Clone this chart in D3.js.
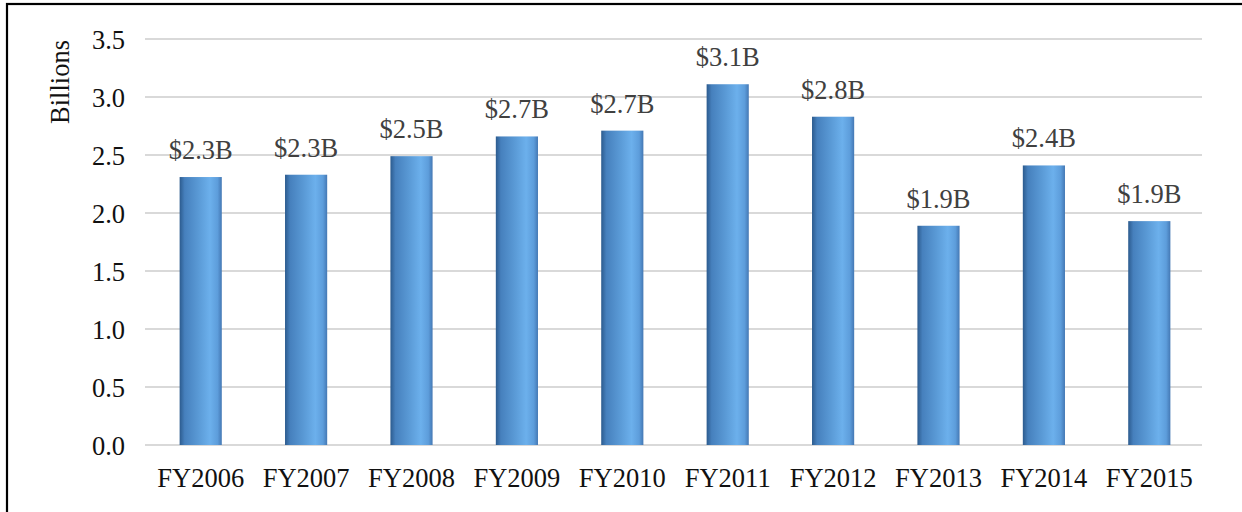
<!DOCTYPE html>
<html>
<head>
<meta charset="utf-8">
<script src="https://cdn.jsdelivr.net/npm/d3@7"></script>
<style>
  html, body { margin: 0; padding: 0; background: #fff; }
  svg { display: block; }
  svg text { font-family: "Liberation Serif", "Times New Roman", serif; }
</style>
</head>
<body>
<svg id="chart" width="1242" height="512"></svg>
<script>
// Fiscal years and appropriations (billions of dollars)
const years = ["FY2006", "FY2007", "FY2008", "FY2009", "FY2010", "FY2011", "FY2012", "FY2013", "FY2014", "FY2015"];
const amounts = [2.31, 2.33, 2.49, 2.66, 2.71, 3.11, 2.83, 1.89, 2.41, 1.93];
const yTicks = [0, 0.5, 1.0, 1.5, 2.0, 2.5, 3.0, 3.5];
const axisTitle = "Billions";

const svg = d3.select("#chart");
const fs = 26.5;

// Frame around the chart area
svg.append("rect")
  .attr("x", 7).attr("y", 4)
  .attr("width", 1260).attr("height", 530)
  .attr("fill", "#fff")
  .attr("stroke", "#000")
  .attr("stroke-width", 2.2);

const x = d3.scaleBand().domain(years).range([148, 1202]).paddingInner(0.6).paddingOuter(0.3);
const y = d3.scaleLinear().domain([0, 3.5]).range([445, 39]);

// Cylinder-style shading for the columns
const grad = svg.append("defs").append("linearGradient")
  .attr("id", "barShade").attr("x1", "0%").attr("x2", "100%").attr("y1", "0%").attr("y2", "0%");
[["0%", "#2c5b8e"], ["12%", "#4680bd"], ["45%", "#5a9ad6"], ["72%", "#6cb0ec"], ["90%", "#5d9ddb"], ["100%", "#4478b4"]]
  .forEach(([o, c]) => grad.append("stop").attr("offset", o).attr("stop-color", c));

// Horizontal gridlines
svg.append("g").selectAll("line").data(yTicks).join("line")
  .attr("x1", 145).attr("x2", 1202)
  .attr("y1", d => y(d)).attr("y2", d => y(d))
  .attr("stroke", "#d9d9d9").attr("stroke-width", 2);

// Y axis tick labels
const yAxis = svg.append("g")
  .attr("transform", "translate(125,0)")
  .call(d3.axisLeft(y).tickValues(yTicks).tickFormat(d3.format(".1f")).tickSize(0).tickPadding(0));
yAxis.attr("font-family", null);
yAxis.select(".domain").remove();
yAxis.selectAll("text")
  .attr("font-size", fs).attr("fill", "#111")
  .attr("dy", "0.34em");

// X axis category labels
const xAxis = svg.append("g")
  .attr("transform", "translate(0,468)")
  .call(d3.axisBottom(x).tickSize(0).tickPadding(0));
xAxis.attr("font-family", null);
xAxis.select(".domain").remove();
xAxis.selectAll("text")
  .attr("font-size", fs).attr("fill", "#111")
  .attr("dy", "0.72em");

// Axis title
svg.append("text")
  .attr("transform", "translate(69,82) rotate(-90)")
  .attr("text-anchor", "middle")
  .attr("font-size", fs).attr("fill", "#111")
  .text(axisTitle);

const data = years.map((yr, i) => ({ yr, v: amounts[i] }));

// Columns
svg.append("g").selectAll("rect").data(data).join("rect")
  .attr("x", d => x(d.yr))
  .attr("width", x.bandwidth())
  .attr("y", d => y(d.v))
  .attr("height", d => y(0) - y(d.v))
  .attr("fill", "url(#barShade)");

// Value labels
svg.append("g").selectAll("text").data(data).join("text")
  .attr("x", d => x(d.yr) + x.bandwidth() / 2)
  .attr("y", d => y(d.v) - 18)
  .attr("text-anchor", "middle")
  .attr("font-size", fs).attr("fill", "#404040")
  .text(d => "$" + d3.format(".1f")(d.v) + "B");
</script>
</body>
</html>
